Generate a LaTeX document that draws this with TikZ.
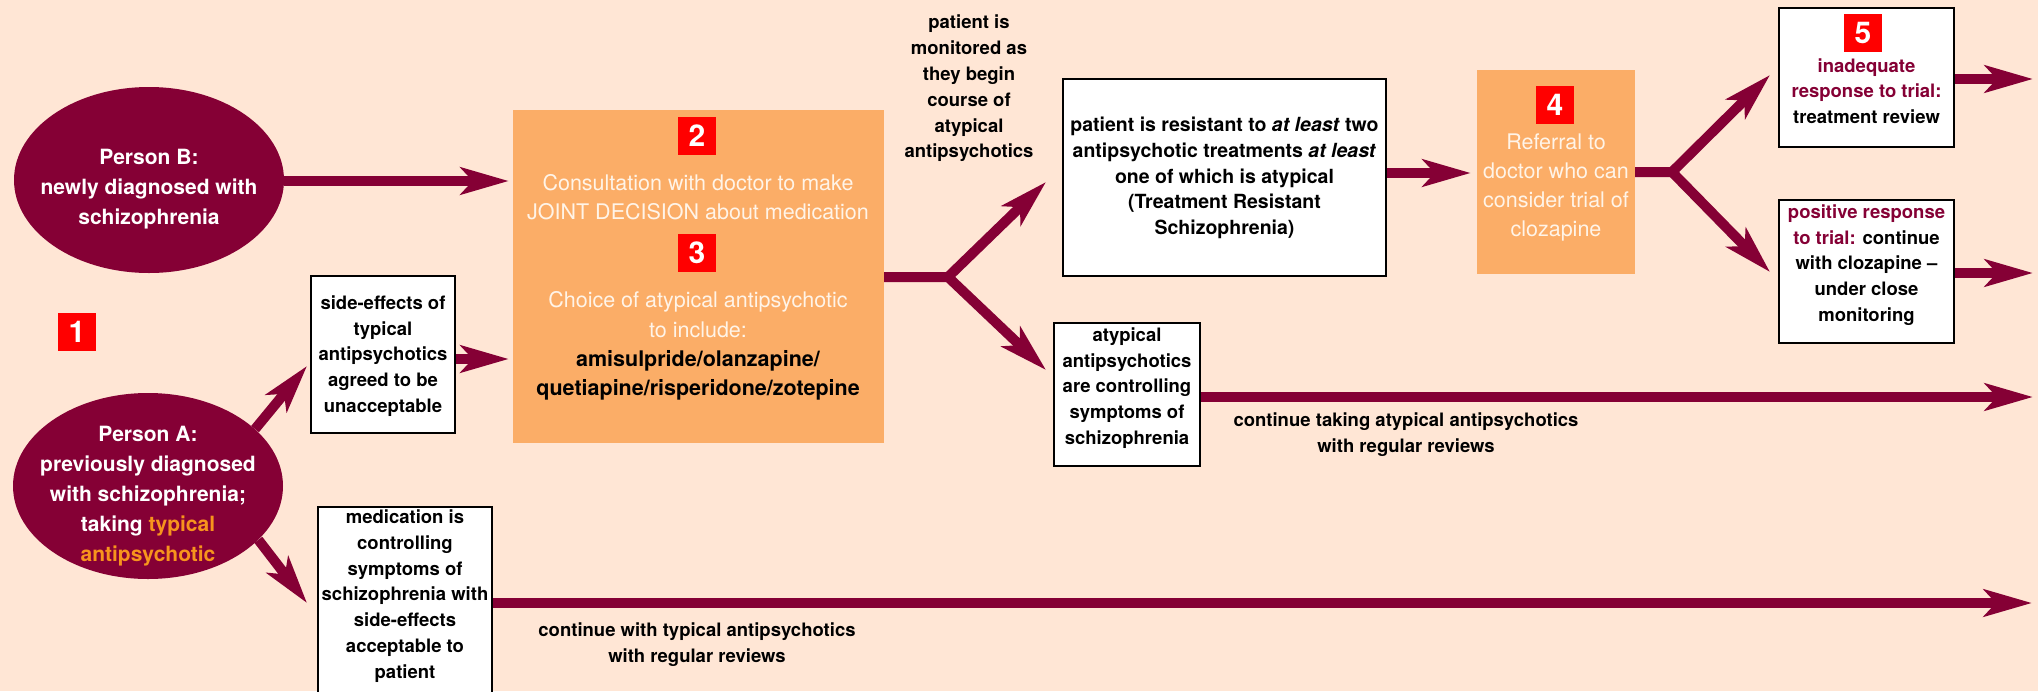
\documentclass[tikz,border=0pt]{standalone}
\usepackage{fontspec}
\setmainfont{TeX Gyre Heros}
\usetikzlibrary{arrows.meta,shapes.geometric}
\definecolor{bg}{HTML}{FFE6D5}
\definecolor{maroon}{HTML}{850035}
\definecolor{peach}{HTML}{FBAD67}
\definecolor{tyorange}{HTML}{F7941D}
\definecolor{cream}{HTML}{FFF4E8}
\begin{document}
\begin{tikzpicture}[x=1pt,y=-1pt,
 conn/.style={draw=maroon,line width=10pt},
 arr/.style={conn,-{Stealth[length=48pt,width=27pt,inset=12pt]}},
 ell/.style={ellipse,fill=maroon,minimum width=270pt,minimum height=186pt,inner sep=0pt},
 wbox/.style={draw=black,line width=2.5pt,fill=white,inner sep=0pt},
 obox/.style={fill=peach,inner sep=0pt},
 num/.style={fill=red,minimum size=38pt,inner sep=0pt,text=white,font=\fontsize{30}{30}\selectfont\bfseries},
 btxt/.style={align=center,inner sep=0pt,font=\fontsize{18.5}{25.8}\selectfont\bfseries},
 etxt/.style={align=center,inner sep=0pt,text=white,font=\fontsize{21}{30}\selectfont\bfseries},
 otxt/.style={align=center,inner sep=0pt,text=cream,font=\fontsize{21.5}{29.3}\selectfont},
]
\fill[bg] (0,0) rectangle (2038,691);
\useasboundingbox (0,0) rectangle (2038,691);

% persons
\node[num] (n1) at (77,332) {1};
\node[ell] (B) at (149,180) {};
\node[etxt] (Bt) at (149,189) {Person B:\\newly diagnosed with\\schizophrenia};
\node[ell] (A) at (148,486) {};
\node[etxt] (At) at (148,496) {Person A:\\previously diagnosed\\with schizophrenia;\\taking \textcolor{tyorange}{typical}\\\textcolor{tyorange}{antipsychotic}};

% orange box 2/3
\node[obox,minimum width=371pt,minimum height=333pt] (O23) at (698.5,276.5) {};
\node[num] (n2) at (697,136) {2};
\node[otxt] (O2t) at (698,197.5) {Consultation with doctor to make\\JOINT DECISION about medication};
\node[num] (n3) at (697,253) {3};
\node[otxt] (O3t) at (698,346) {Choice of atypical antipsychotic\\to include:\\\textcolor{black}{\bfseries amisulpride/olanzapine/}\\\textcolor{black}{\bfseries quetiapine/risperidone/zotepine}};

% side-effects box
\node[wbox,minimum width=144pt,minimum height=157pt] (SE) at (383,354.5) {};
\node[btxt] (SEt) at (383,356) {side-effects of\\typical\\antipsychotics\\agreed to be\\unacceptable};

% medication box
\node[wbox,minimum width=174pt,minimum height=213pt] (MED) at (405,613.5) {};
\node[btxt] (MEDt) at (405,596) {medication is\\controlling\\symptoms of\\schizophrenia with\\side-effects\\acceptable to\\patient};

% monitoring text
\node[btxt] (mon) at (969,88.5) {patient is\\monitored as\\they begin\\course of\\atypical\\antipsychotics};

% TRS box
\node[wbox,minimum width=323pt,minimum height=197pt] (TRS) at (1224.5,177.5) {};
\node[btxt,font=\fontsize{19.5}{25.8}\selectfont\bfseries] (TRSt) at (1224.5,178) {patient is resistant to \textit{at least} two\\antipsychotic treatments \textit{at least}\\one of which is atypical\\(Treatment Resistant\\Schizophrenia)};

% atypical box
\node[wbox,minimum width=146pt,minimum height=143pt] (ATY) at (1127,394.5) {};
\node[btxt] (ATYt) at (1127,388) {atypical\\antipsychotics\\are controlling\\symptoms of\\schizophrenia};

% box 4
\node[obox,minimum width=158pt,minimum height=204pt] (B4) at (1556,172) {};
\node[num] (n4) at (1555,105) {4};
\node[otxt] (B4t) at (1556,187.5) {Referral to\\doctor who can\\consider trial of\\clozapine};

% box 5
\node[wbox,minimum width=175pt,minimum height=139pt] (B5) at (1866.5,77.5) {};
\node[num] (n5) at (1863,33) {5};
\node[btxt] (B5t) at (1866.5,91) {\textcolor{maroon}{inadequate}\\\textcolor{maroon}{response to trial:}\\treatment review};

% positive box
\node[wbox,minimum width=175pt,minimum height=143pt] (POS) at (1866.5,271.5) {};
\node[btxt] (POSt) at (1866.5,265) {\textcolor{maroon}{positive response}\\\textcolor{maroon}{to trial:} continue\\with clozapine --\\under close\\monitoring};

% labels
\node[btxt] (L1) at (1406,434.5) {continue taking atypical antipsychotics\\with regular reviews};
\node[btxt] (L2) at (697,644.5) {continue with typical antipsychotics\\with regular reviews};

% coordinates
\coordinate (yB) at (0,181);
\coordinate (ySE) at (0,359);
\coordinate (yT) at (0,173);
\coordinate (tSE) at (307,366);
\coordinate (tMED) at (307,603);
\coordinate (F1) at (948,277);
\coordinate (t1) at (1046,182);
\coordinate (t2) at (1046,370);
\coordinate (F2) at (1672,172);
\coordinate (t3) at (1770,75);
\coordinate (t4) at (1770,272);
\coordinate (E5) at (2033,79);
\coordinate (EP) at (2033,273);
\coordinate (EA) at (2033,397);
\coordinate (EM) at (2032,603);

% connectors
\draw[arr,shorten >=4pt] (B.east |- yB) -- (O23.west |- yB);
\draw[arr] (A.28) -- (tSE);
\draw[arr] (A.334) -- (tMED);
\draw[arr,shorten >=4pt] (SE.east |- ySE) -- (O23.west |- ySE);
\draw[arr,line join=miter] (O23.east |- F1) -- (F1) -- (t1);
\draw[arr] (F1) -- (t2);
\draw[arr,shorten >=6pt] (TRS.east |- yT) -- (B4.west |- yT);
\draw[arr,line join=miter] (B4.east |- F2) -- (F2) -- (t3);
\draw[arr] (F2) -- (t4);
\draw[arr] (B5.east |- E5) -- (E5);
\draw[arr] (POS.east |- EP) -- (EP);
\draw[arr] (ATY.east |- EA) -- (EA);
\draw[arr] (MED.east |- EM) -- (EM);
\end{tikzpicture}
\end{document}
